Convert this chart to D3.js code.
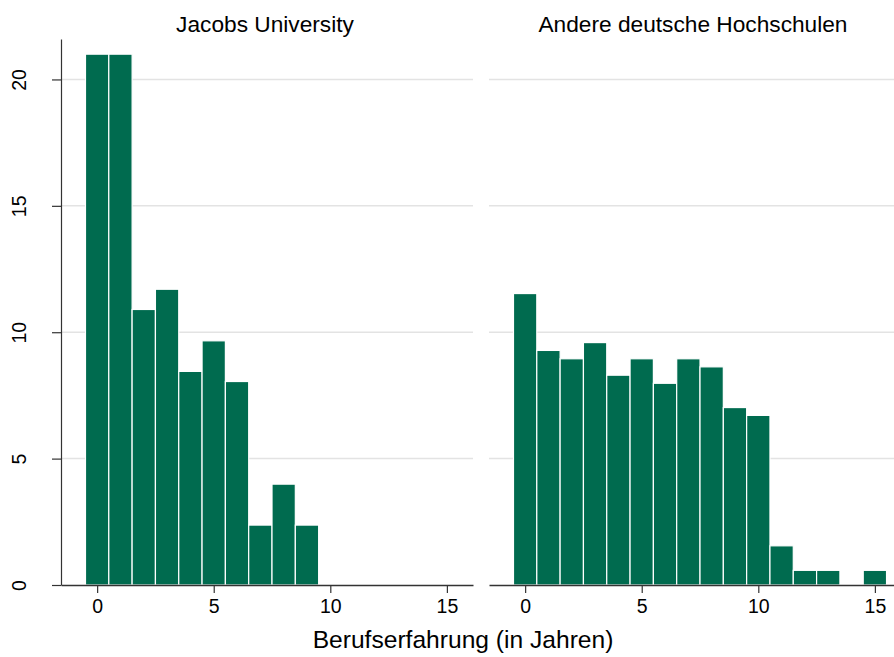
<!DOCTYPE html>
<html><head><meta charset="utf-8">
<script src="https://cdn.jsdelivr.net/npm/d3@7"></script>
<style>body{margin:0;background:#fff}svg{display:block}text{font-family:"Liberation Sans",Arial,sans-serif;fill:#000}</style>
</head><body><svg id="c" width="894" height="657"></svg>
<script>
const panelTitles = ["Jacobs University", "Andere deutsche Hochschulen"];
const years = [0,1,2,3,4,5,6,7,8,9,10,11,12,13,14,15];
const jacobs = [21.0,21.0,10.9,11.7,8.45,9.66,8.05,2.37,3.99,2.37,0,0,0,0,0,0];
const andere = [11.53,9.28,8.95,9.59,8.30,8.95,7.98,8.95,8.63,7.02,6.71,1.55,0.58,0.58,0,0.58];
const xTicks = [0,5,10,15];
const yTicks = [0,5,10,15,20];
const xLabel = "Berufserfahrung (in Jahren)";

const svg = d3.select("#c");
const y = d3.scaleLinear().domain([0,21.6]).range([585,39]);
const panels = [
  {title: panelTitles[0], values: jacobs, x: d3.scaleLinear().domain([-1.55,16.12]).range([61,473]), yaxis:true, tx:265},
  {title: panelTitles[1], values: andere, x: d3.scaleLinear().domain([-1.55,16.12]).range([489,901]), yaxis:false, tx:693}
];
const color = "#006b4f";

panels.forEach(p => {
  const g = svg.append("g");
  const [x0,x1] = p.x.range();
  g.selectAll("line.grid").data(yTicks.filter(t=>t>0)).join("line")
    .attr("x1",x0).attr("x2",x1).attr("y1",d=>y(d)).attr("y2",d=>y(d))
    .attr("stroke","#e3e3e3").attr("stroke-width",1.5);
  const data = years.map((yr,i)=>({yr, v:p.values[i]})).filter(d=>d.v>0);
  g.selectAll("rect").data(data).join("rect")
    .attr("x",d=>p.x(d.yr-0.5)).attr("width",d=>p.x(d.yr+0.5)-p.x(d.yr-0.5))
    .attr("y",d=>y(d.v)).attr("height",d=>y(0)-y(d.v))
    .attr("fill",color).attr("stroke","#ffffff").attr("stroke-width",1.2);
  const xa = g.append("g").attr("transform",`translate(0,${y(0)})`)
    .call(d3.axisBottom(p.x).tickValues(xTicks).tickSize(8).tickSizeOuter(0).tickPadding(6));
  xa.select(".domain").attr("stroke","#333").attr("stroke-width",1.5);
  xa.selectAll(".tick line").attr("stroke","#333").attr("stroke-width",1.2);
  xa.selectAll(".tick text").style("font-size","19.5px").style("font-family",'"Liberation Sans",Arial,sans-serif').attr("fill","#000");
  if (p.yaxis) {
    const ya = g.append("g").attr("transform",`translate(${x0},0)`)
      .call(d3.axisLeft(y).tickValues(yTicks).tickSize(9).tickSizeOuter(0).tickPadding(0));
    ya.select(".domain").attr("stroke","#333").attr("stroke-width",1.2);
    ya.selectAll(".tick line").attr("stroke","#333").attr("stroke-width",1.2);
    ya.selectAll(".tick text").remove();
    ya.selectAll(".tick").append("text")
      .attr("transform","translate(-49,0) rotate(-90)")
      .attr("text-anchor","middle").attr("dy","0.72em")
      .style("font-size","19.5px").attr("fill","#000")
      .text(d=>d);
  }
  svg.append("text").attr("x",p.tx).attr("y",32)
    .attr("text-anchor","middle").style("font-size","22.7px").text(p.title);
});
svg.append("text").attr("x",463).attr("y",648).attr("text-anchor","middle")
  .style("font-size","24.6px").text(xLabel);
</script></body></html>
